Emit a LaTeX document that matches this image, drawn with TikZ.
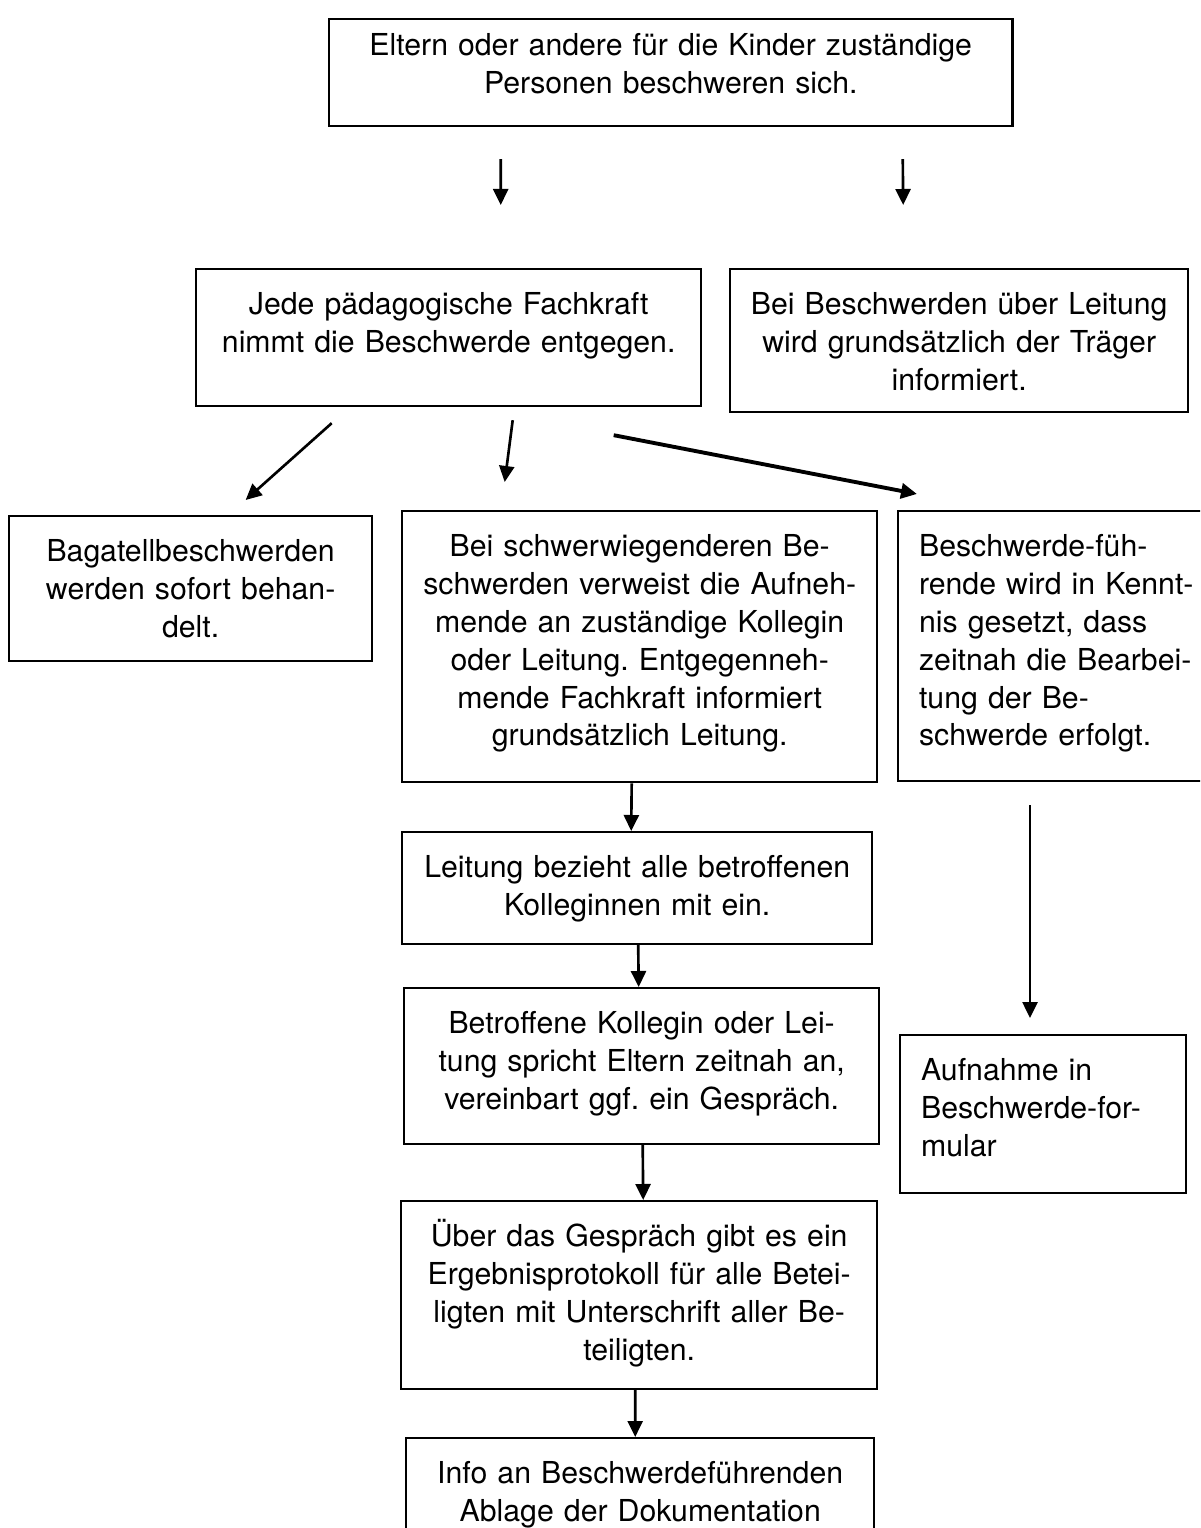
\documentclass[tikz,border=0pt]{standalone}
\usepackage{fontspec}
\setmainfont{TeX Gyre Heros}
\usetikzlibrary{arrows.meta,calc}
\frenchspacing

\begin{document}
\begin{tikzpicture}[x=0.01cm, y=-0.01cm, every node/.style={font=\fontsize{8.6}{10.8}\selectfont}, >={Triangle[length=1.6mm, width=1.5mm]}, box/.style={draw, line width=0.6pt, anchor=north west, inner xsep=0pt, inner ysep=0pt, align=center, text height=0.45cm}, lbox/.style={box, align=left, inner xsep=0.21cm}, arr/.style={->, line width=0.75pt}]
	\useasboundingbox (0,0) rectangle (1200,1528);
	\clip (0,0) rectangle (1200,1528);
	\node[box, text width=6.83cm, text height=0.36cm, text depth=0.71cm] (eltern) at (328,18) {Eltern oder andere für die Kinder zuständige\\Personen beschweren sich.};
	\node[box, text width=5.05cm, text depth=0.92cm] (fach) at (195,268) {Jede pädagogische Fachkraft\\nimmt die Beschwerde entgegen.};
	\node[box, text width=4.58cm, text depth=0.98cm] (traeger) at (729,268) {Bei Beschwerden über Leitung\\wird grundsätzlich der Träger\\informiert.};
	\node[box, text width=3.63cm, text depth=1.00cm] (bagatell) at (8,515) {Bagatellbeschwerden\\werden sofort behan-\\delt.};
	\node[box, text width=4.75cm, text depth=2.26cm] (schwer) at (401,510) {Bei schwerwiegenderen Be-\\schwerden verweist die Aufneh-\\mende an zuständige Kollegin\\oder Leitung. Entgegenneh-\\mende Fachkraft informiert\\grundsätzlich Leitung.};
	\node[lbox, minimum width=3.3cm, text width=2.88cm, text depth=2.25cm] (kenntnis) at (897,510) {Beschwerde-füh-\\rende wird in Kennt-\\nis gesetzt, dass\\zeitnah die Bearbei-\\tung der Be-\\schwerde erfolgt.};
	\node[box, text width=4.70cm, text depth=0.67cm] (leitung) at (401,831) {Leitung bezieht alle betroffenen\\Kolleginnen mit ein.};
	\node[box, text width=4.75cm, text depth=1.11cm] (kollegin) at (403,987) {Betroffene Kollegin oder Lei-\\tung spricht Eltern zeitnah an,\\vereinbart ggf. ein Gespräch.};
	\node[lbox, minimum width=2.86cm, text width=2.44cm, text depth=1.13cm] (formular) at (899,1034) {Aufnahme in\\Beschwerde-for-\\mular};
	\node[box, text width=4.76cm, text depth=1.43cm] (protokoll) at (400,1200) {Über das Gespräch gibt es ein\\Ergebnisprotokoll für alle Betei-\\ligten mit Unterschrift aller Be-\\teiligten.};
	\node[box, text width=4.68cm, text depth=1.05cm] (ablage) at (405,1437) {Info an Beschwerdeführenden\\Ablage der Dokumentation};
	\draw[arr] ($(eltern.south)+(-170,32)$) -- ($(fach.north)+(52,-63)$);
	\draw[arr] ($(eltern.south)+(232,32)$) -- ($(traeger.north)+(-56,-63)$);
	\draw[arr] ($(fach.south)+(-117,16)$) -- ($(bagatell.north)+(55,-15)$);
	\draw[arr] ($(fach.south)+(64,13)$) -- ($(schwer.north)+(-135,-28)$);
	\draw[arr, line width=1.1pt] ($(fach.south)+(165,28)$) -- ($(kenntnis.north west)+(20,-16)$);
	\draw[arr] ($(schwer.south)+(-8,0)$) -- ($(leitung.north)+(-6,0)$);
	\draw[arr] ($(leitung.south)+(1,0)$) -- ($(kollegin.north)+(-3,0)$);
	\draw[arr] ($(kollegin.south)+(1,0)$) -- ($(protokoll.north)+(4,0)$);
	\draw[arr] ($(protokoll.south)+(-4,0)$) -- ($(ablage.north)+(-5,0)$);
	\draw[arr] ($(kenntnis.south west)+(133,23)$) -- ($(formular.north west)+(131,-16)$);
\end{tikzpicture}
\end{document}
